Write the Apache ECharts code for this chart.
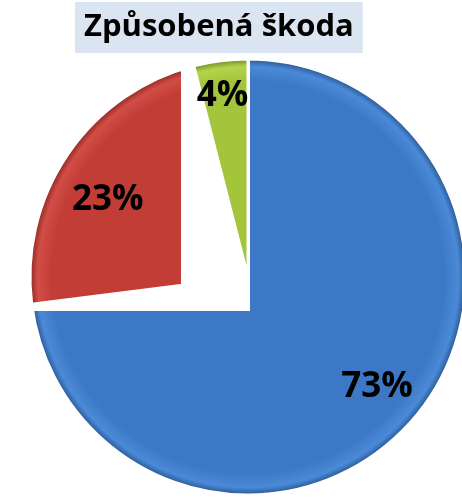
<!DOCTYPE html>
<html>
<head>
<meta charset="utf-8">
<script src="https://cdn.jsdelivr.net/npm/echarts@6/dist/echarts.min.js"></script>
<style>
  html, body { margin: 0; padding: 0; background: #fff; }
  #skoda { width: 462px; height: 497px; }
</style>
</head>
<body>
<div id="skoda"></div>
<script>
  // data
  var categories = ['Kategorie A', 'Kategorie B', 'Kategorie C'];
  var values = [73, 23, 4];
  // base, rim highlight, outline
  var colors = [
    ['#3c78c6', '#4b8ad8', '#28558f'],
    ['#c33d37', '#d24d46', '#8e2723'],
    ['#a2c53b', '#b2d44c', '#6f8c22']
  ];
  var labelShift = [[0, -4], [2, 20], [-4, -10]];

  var chart = echarts.init(document.getElementById('skoda'));
  var cx = 248, cy = 277, R = 218;

  function fill(i) {
    return new echarts.graphic.RadialGradient(cx, cy, R, [
      { offset: 0, color: colors[i][0] },
      { offset: 0.9, color: colors[i][0] },
      { offset: 0.965, color: colors[i][1] },
      { offset: 1, color: colors[i][2] }
    ], true);
  }

  // visible: which slices this layer draws
  function layer(visible, z) {
    return {
      type: 'pie',
      z: z,
      center: [cx, cy],
      radius: R,
      startAngle: 90,
      silent: true,
      label: { show: false },
      labelLine: { show: false },
      data: values.map(function (v, i) {
        var on = visible.indexOf(i) >= 0;
        return {
          name: categories[i],
          value: v,
          itemStyle: on ? { color: fill(i), borderColor: '#fff', borderWidth: 3 }
                        : { color: 'rgba(0,0,0,0)', borderWidth: 0 }
        };
      })
    };
  }

  var option = {
    animation: false,
    title: {
      text: 'Způsobená škoda',
      left: 75,
      top: 2,
      padding: [10, 9, 10, 9],
      backgroundColor: '#dbe5f1',
      textStyle: {
        fontFamily: 'Open Sans',
        fontWeight: 'bold',
        fontSize: 31,
        color: '#000'
      }
    },
    graphic: [
      { type: 'rect', z: 2, shape: { x: 25, y: 282, width: 225, height: 29 }, style: { fill: '#fff' } },
      { type: 'rect', z: 4, shape: { x: 181, y: 57, width: 69, height: 231 }, style: { fill: '#fff' } }
    ],
    series: [
      layer([0, 1, 2], 1),
      layer([1, 2], 3),
      layer([2], 5),
      {
        type: 'pie',
        z: 6,
        center: [cx, cy],
        radius: [R * 0.55, R],
        startAngle: 90,
        silent: true,
        itemStyle: { color: 'rgba(0,0,0,0)' },
        label: {
          show: true,
          position: 'inside',
          formatter: '{c}%',
          fontFamily: 'Open Sans',
          fontWeight: 'bold',
          fontSize: 35,
          color: '#000'
        },
        labelLine: { show: false },
        data: values.map(function (v, i) {
          return { name: categories[i], value: v, label: { offset: labelShift[i] } };
        })
      }
    ]
  };
  chart.setOption(option);
</script>
</body>
</html>
